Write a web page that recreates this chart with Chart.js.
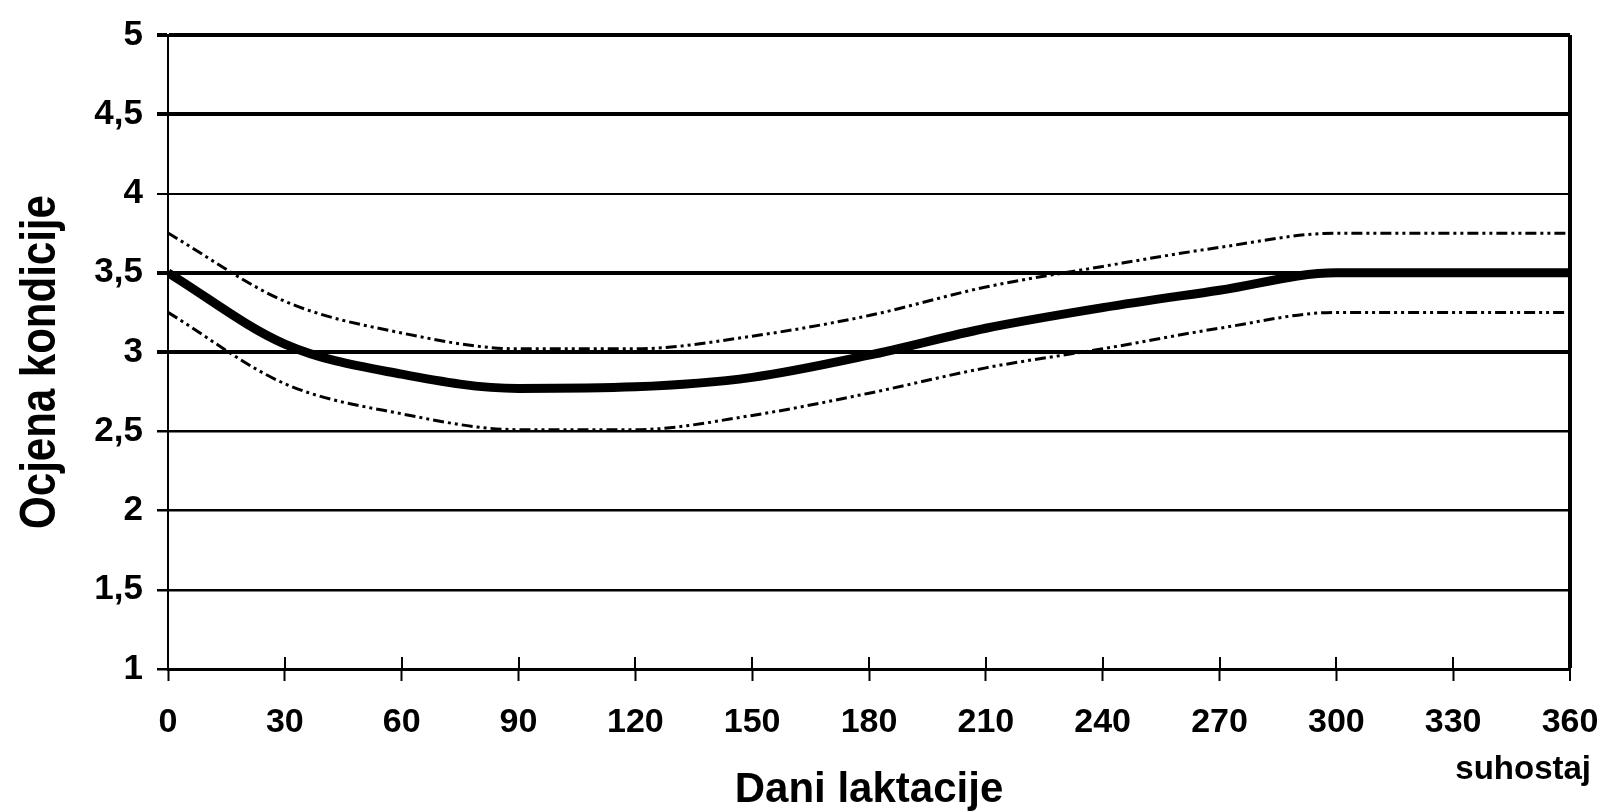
<!DOCTYPE html>
<html><head><meta charset="utf-8">
<script src="https://cdn.jsdelivr.net/npm/chart.js@4/dist/chart.umd.min.js"></script>
<style>html,body{margin:0;padding:0;background:#fff;} #wrap{width:1608px;height:812px;}</style>
</head><body><div id="wrap"><canvas id="c" width="1608" height="812"></canvas></div>
<script>
const days = [0,30,60,90,120,150,180,210,240,270,300,330,360];
const meanScore = [3.5,3.05,2.86,2.77,2.78,2.84,2.98,3.15,3.28,3.39,3.5,3.5,3.5];
const upperScore = [3.75,3.32,3.12,3.02,3.02,3.1,3.23,3.41,3.54,3.66,3.75,3.75,3.75];
const lowerScore = [3.25,2.8,2.61,2.51,2.51,2.6,2.74,2.9,3.02,3.15,3.25,3.25,3.25];
const thickGridValues = [5,4.5,3.5,3];
const thinGridValues = [4];
const xTitle = 'Dani laktacije';
const yTitle = 'Ocjena kondicije';
const dryLabel = 'suhostaj';

const FONT = "'Liberation Sans', Arial, sans-serif";
const toPts = arr => arr.map((v,i) => ({x: days[i], y: v}));

const extrasPlugin = {
  id: 'extras',
  afterDraw(chart) {
    const ctx = chart.ctx;
    const xs = chart.scales.x;
    const area = chart.chartArea;
    ctx.save();
    ctx.strokeStyle = '#000';
    ctx.lineWidth = 2;
    xs.ticks.forEach(t => {
      const px = Math.round(xs.getPixelForValue(t.value));
      ctx.beginPath();
      ctx.moveTo(px, area.bottom - 12);
      ctx.lineTo(px, area.bottom);
      ctx.stroke();
    });
    ctx.fillStyle = '#000';
    ctx.font = 'bold 33px ' + FONT;
    ctx.textAlign = 'right';
    ctx.textBaseline = 'middle';
    ctx.fillText(dryLabel, xs.getPixelForValue(360) + 21, xs.top + 101);
    ctx.restore();

    // y-axis title (rotated, slightly condensed look as in the original)
    ctx.save();
    ctx.fillStyle = '#000';
    ctx.translate(41, (area.top + area.bottom) / 2 + 10);
    ctx.rotate(-Math.PI / 2);
    ctx.scale(1, 1.2);
    ctx.font = 'bold 42px ' + FONT;
    ctx.textAlign = 'center';
    ctx.textBaseline = 'middle';
    ctx.fillText(yTitle, 0, 0);
    ctx.restore();
  }
};

new Chart(document.getElementById('c'), {
  type: 'line',
  data: {
    datasets: [
      {data: toPts(upperScore), borderColor: '#000', borderWidth: 3, borderDash: [11,4,3,4,3,4], pointRadius: 0, cubicInterpolationMode: 'monotone', fill: false},
      {data: toPts(lowerScore), borderColor: '#000', borderWidth: 3, borderDash: [11,4,3,4,3,4], pointRadius: 0, cubicInterpolationMode: 'monotone', fill: false},
      {data: toPts(meanScore), borderColor: '#000', borderWidth: 9, pointRadius: 0, cubicInterpolationMode: 'monotone', fill: false}
    ]
  },
  options: {
    responsive: false,
    devicePixelRatio: 1,
    animation: false,
    layout: {padding: {top: 31, right: 38, bottom: 0, left: 0}},
    plugins: {legend: {display: false}, tooltip: {enabled: false}},
    scales: {
      x: {
        type: 'linear', min: 0, max: 360,
        afterFit(s) { s.height = 143; s.paddingRight = 0; s.paddingLeft = 0; },
        ticks: {stepSize: 30, color: '#000', padding: 21, maxRotation: 0, autoSkip: false,
          font: {family: FONT, size: 34, weight: 'bold'}},
        grid: {
          drawOnChartArea: true,
          color: c => (c.tick && c.tick.value === 360) ? '#000' : 'rgba(0,0,0,0)',
          lineWidth: c => (c.tick && c.tick.value === 360) ? 4 : 1,
          tickColor: '#000', tickWidth: 2, tickLength: 12
        },
        border: {display: true, color: '#000', width: 3},
        title: {display: true, text: xTitle, color: '#000', padding: {top: 0, bottom: -4},
          font: {family: FONT, size: 42, weight: 'bold'}}
      },
      y: {
        min: 1, max: 5,
        afterFit(s) { s.width = 168; },
        ticks: {stepSize: 0.5, color: '#000', padding: 14,
          callback: v => String(v).replace('.', ','),
          font: {family: FONT, size: 35, weight: 'bold'}},
        grid: {
          color: '#000',
          lineWidth: c => thickGridValues.includes(c.tick.value) ? 4 : (thinGridValues.includes(c.tick.value) ? 2 : 2.5),
          tickColor: '#000',
          tickWidth: c => thickGridValues.includes(c.tick.value) ? 4 : (thinGridValues.includes(c.tick.value) ? 2 : 2.5),
          tickLength: 11
        },
        border: {display: true, color: '#000', width: 2},
        title: {display: false}
      }
    }
  },
  plugins: [extrasPlugin]
});
</script>
</body></html>
